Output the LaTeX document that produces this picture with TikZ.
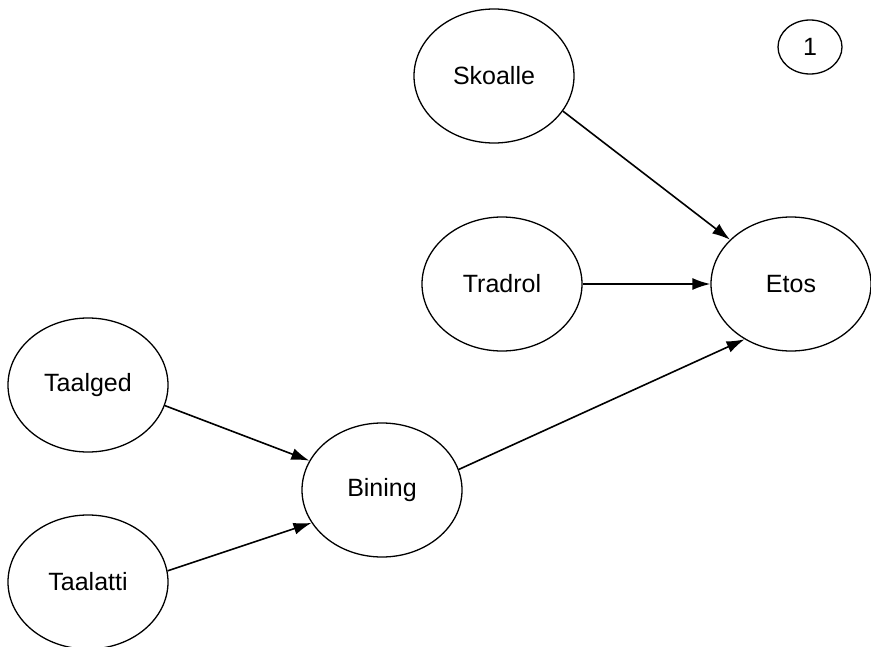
\documentclass[tikz,border=0pt]{standalone}
\usepackage{fontspec}
\setmainfont{Liberation Sans}
\usetikzlibrary{arrows.meta,shapes.geometric}
\tikzset{
  factor/.style={draw, ellipse, line width=1.3pt, minimum width=160pt, minimum height=134pt, inner sep=0pt, font=\fontsize{25}{30}\selectfont},
  tag/.style={draw, ellipse, line width=1.3pt, minimum width=64pt, minimum height=54pt, inner sep=0pt, font=\fontsize{25}{30}\selectfont},
  link/.style={line width=1.6pt, -{Latex[length=18pt,width=12pt]}}
}
\begin{document}
\begin{tikzpicture}[x=1pt,y=-1pt]
% Frame
\useasboundingbox (0,0) rectangle (871,646);
% Number
\node[tag] (nr) at (810,47) {1};
% Factors
\node[factor] (skoalle) at (494,76) {Skoalle};
\node[factor] (tradrol) at (502,284) {Tradrol};
\node[factor] (etos) at (791,284) {Etos};
\node[factor] (taalged) at (88,385) {Taalged};
\node[factor] (bining) at (382,490) {Bining};
\node[factor] (taalatti) at (88,582) {Taalatti};
% Arrows
\draw[link] (skoalle.-27) -- (etos.144);
\draw[link] (tradrol) -- (etos);
\draw[link] (bining.15) -- (etos.230);
\draw[link] (taalged.-15) -- (bining.158);
\draw[link] (taalatti.8) -- (bining.205);
\end{tikzpicture}
\end{document}
